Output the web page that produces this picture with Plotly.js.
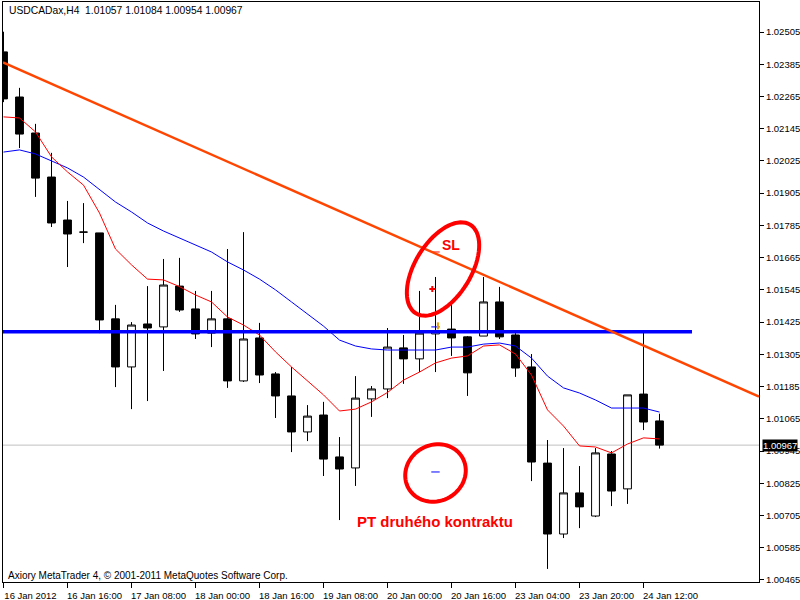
<!DOCTYPE html>
<html><head><meta charset="utf-8">
<script src="https://cdn.plot.ly/plotly-3.0.1.min.js"></script>
<style>html,body{margin:0;padding:0;background:#fff}#chart{width:800px;height:600px}</style>
</head><body><div id="chart"></div>
<script>
// ---- data (USDCADax, H4) ----
const opens  = [1.02431,1.02263,1.02129,1.01965,1.01805,1.01760,1.01757,1.01437,1.01258,1.01418,1.01407,1.01559,1.01474,1.01384,1.01437,1.01206,1.01366,1.01232,1.01150,1.01016,1.01079,1.00923,1.00882,1.01139,1.01176,1.01329,1.01288,1.01381,1.01399,1.01370,1.01373,1.01500,1.01377,1.01258,1.00900,1.00636,1.00789,1.00703,1.00934,1.00804,1.01157,1.01057];
const highs  = [1.02506,1.02297,1.02163,1.02055,1.01876,1.01868,1.01757,1.01489,1.01425,1.01559,1.01660,1.01664,1.01541,1.01541,1.01697,1.01760,1.01422,1.01239,1.01258,1.01116,1.01128,1.00997,1.01224,1.01187,1.01403,1.01377,1.01541,1.01593,1.01504,1.01373,1.01593,1.01556,1.01384,1.01306,1.00986,1.00956,1.00889,1.00956,1.00945,1.01154,1.01392,1.01084];
const lows   = [1.02244,1.02073,1.01891,1.01779,1.01630,1.01719,1.01384,1.01183,1.01101,1.01131,1.01243,1.01463,1.01362,1.01332,1.01180,1.01202,1.01198,1.01068,1.00941,1.00982,1.00852,1.00688,1.00815,1.01072,1.01142,1.01195,1.01239,1.01239,1.01299,1.01150,1.01373,1.01362,1.01221,1.00833,1.00506,1.00621,1.00658,1.00699,1.00740,1.00748,1.01023,1.00954];
const closes = [1.02256,1.02125,1.01961,1.01794,1.01753,1.01760,1.01433,1.01258,1.01414,1.01403,1.01563,1.01470,1.01381,1.01437,1.01206,1.01362,1.01228,1.01150,1.01016,1.01075,1.00915,1.00878,1.01142,1.01176,1.01332,1.01288,1.01384,1.01392,1.01366,1.01236,1.01500,1.01370,1.01254,1.00904,1.00636,1.00789,1.00737,1.00938,1.00796,1.01154,1.01053,1.00967];
const maFast = [1.02189,1.02185,1.02133,1.02040,1.01984,1.01935,1.01831,1.01697,1.01638,1.01585,1.01582,1.01557,1.01526,1.01500,1.01444,1.01414,1.01377,1.01314,1.01258,1.01206,1.01154,1.01094,1.01101,1.01128,1.01163,1.01209,1.01239,1.01273,1.01291,1.01299,1.01336,1.01340,1.01306,1.01228,1.01098,1.01038,1.00964,1.00960,1.00938,1.00971,1.00994,1.00990];
const maSlow = [1.02058,1.02066,1.02051,1.02025,1.01999,1.01965,1.01917,1.01872,1.01835,1.01794,1.01764,1.01738,1.01712,1.01686,1.01649,1.01619,1.01585,1.01545,1.01500,1.01455,1.01410,1.01358,1.01336,1.01325,1.01321,1.01321,1.01321,1.01321,1.01332,1.01332,1.01343,1.01347,1.01336,1.01291,1.01224,1.01180,1.01161,1.01135,1.01105,1.01105,1.01105,1.01090];
const timeTickIdx = [0,4,8,12,16,20,24,28,32,36,40];
const timeTickText = ["16 Jan 2012","16 Jan 16:00","17 Jan 08:00","18 Jan 00:00","18 Jan 16:00","19 Jan 08:00","20 Jan 00:00","20 Jan 16:00","23 Jan 04:00","23 Jan 20:00","24 Jan 12:00"];
const priceTicks = [1.02505,1.02385,1.02265,1.02145,1.02025,1.01905,1.01785,1.01665,1.01545,1.01425,1.01305,1.01185,1.01065,1.00945,1.00825,1.00705,1.00585,1.00465];
const lastPrice = 1.00967;
const supportLevel = 1.01389;   // horizontal blue line
const trendStart = 1.023918, trendEnd = 1.011476;  // orange trendline
const tradeEntry = 1.01407, tradeSL = 1.01686, tradeTP = 1.00867, tradeMark = 1.01548;
const tradeIdx = 27;

// ---- layout geometry ----
const W = 800, H = 600;
const M = {l:3, r:41, t:2, b:18};
const plotW = W - M.l - M.r, plotH = H - M.t - M.b;
const xRange = [-0.03125, -0.03125 + plotW/16];
const yRange = [1.0045735, 1.026167];
const xPerPx = (xRange[1]-xRange[0])/plotW;
const yPerPx = (yRange[1]-yRange[0])/plotH;

const idx = opens.map((_, i) => i);
const font = "Liberation Sans, Arial, sans-serif";

function ellipsePath(cx, cy, aPx, bPx, rotDeg) {
  const th = rotDeg*Math.PI/180, n = 72; let d = "";
  for (let j = 0; j <= n; j++) {
    const t = 2*Math.PI*j/n;
    const dx = aPx*Math.cos(th)*Math.cos(t) - bPx*Math.sin(th)*Math.sin(t);
    const dy = aPx*Math.sin(th)*Math.cos(t) + bPx*Math.cos(th)*Math.sin(t);
    const x = cx + dx*xPerPx, y = cy - dy*yPerPx;
    d += (j === 0 ? "M" : "L") + x.toFixed(4) + "," + y.toFixed(6);
  }
  return d + "Z";
}

const traces = [
  {type:'candlestick', x: idx, open: opens, high: highs, low: lows, close: closes,
   increasing:{line:{color:'#000', width:1}, fillcolor:'#fff'},
   decreasing:{line:{color:'#000', width:1}, fillcolor:'#000'},
   whiskerwidth:0, hoverinfo:'skip', showlegend:false},
  {type:'scatter', mode:'lines', x: idx, y: maSlow, line:{color:'#0000FF', width:1}, hoverinfo:'skip', showlegend:false},
  {type:'scatter', mode:'lines', x: idx, y: maFast, line:{color:'#FF0000', width:1}, hoverinfo:'skip', showlegend:false},
  {type:'scatter', mode:'markers', x:[tradeIdx, tradeIdx, tradeIdx], y:[tradeSL, tradeEntry, tradeTP],
   marker:{symbol:'line-ew', size:6, line:{width:1, color:['#FF0000','#0000FF','#0000FF']}}, hoverinfo:'skip', showlegend:false},
  {type:'scatter', mode:'markers', x:[tradeIdx-0.2], y:[tradeMark],
   marker:{symbol:'cross', size:5, color:'#FF0000'}, hoverinfo:'skip', showlegend:false},
  {type:'scatter', mode:'markers', x:[tradeIdx+0.15], y:[tradeEntry+0.00004],
   marker:{symbol:'line-ns', size:5, line:{width:2, color:'#E8A000'}}, hoverinfo:'skip', showlegend:false}
];

const layout = {
  width: W, height: H, margin: M,
  paper_bgcolor:'#fff', plot_bgcolor:'#fff', showlegend:false, dragmode:false,
  font:{family:font, size:9.5, color:'#000'},
  xaxis:{type:'linear', range:xRange, showgrid:false, zeroline:false,
    showline:true, mirror:true, linecolor:'#000', linewidth:1,
    tickmode:'array', tickvals:timeTickIdx, ticktext:timeTickText,
    ticks:'outside', ticklen:5, tickcolor:'#000', ticklabelshift:27,
    tickfont:{family:font, size:9.5, color:'#000'},
    rangeslider:{visible:false}, fixedrange:true},
  yaxis:{range:yRange, side:'right', showgrid:false, zeroline:false,
    showline:true, mirror:true, linecolor:'#000', linewidth:1,
    tickmode:'array', tickvals:priceTicks, ticktext:priceTicks.map(v=>v.toFixed(5)),
    ticks:'outside', ticklen:4, tickcolor:'#000',
    tickfont:{family:font, size:9.5, color:'#000'}, fixedrange:true},
  boxgap:0.3,
  shapes:[
    {type:'line', xref:'paper', x0:0, x1:1, yref:'y', y0:lastPrice, y1:lastPrice, line:{color:'#C0C0C0', width:1}, layer:'below'},
    {type:'line', xref:'x', x0:xRange[0], x1:43.03, yref:'y', y0:supportLevel, y1:supportLevel, line:{color:'#0000FF', width:3.5}, layer:'above'},
    {type:'line', xref:'x', x0:xRange[0], x1:xRange[1], yref:'y', y0:trendStart, y1:trendEnd, line:{color:'#FF4500', width:2.4}, layer:'above'},
    {type:'path', xref:'x', yref:'y', path: ellipsePath(27.47, 1.016226, 52, 28, -58.5), line:{color:'#FF0000', width:4}, layer:'above'},
    {type:'path', xref:'x', yref:'y', path: ellipsePath(27.0, 1.008632, 31, 28, -30), line:{color:'#FF0000', width:4}, layer:'above'}
  ],
  annotations:[
    {xref:'paper', yref:'paper', x:0, y:(plotH-9)/plotH, xshift:4, xanchor:'left', yanchor:'middle', showarrow:false,
     text:'USDCADax,H4  1.01057 1.01084 1.00954 1.00967', font:{family:font, size:10.3, color:'#000'}},
    {xref:'paper', yref:'paper', x:0, y:7/plotH, xshift:3, xanchor:'left', yanchor:'middle', showarrow:false,
     text:'Axiory MetaTrader 4, © 2001-2011 MetaQuotes Software Corp.', font:{family:font, size:10, color:'#000'}},
    {xref:'x', yref:'y', x:27.97, y:1.01712, showarrow:false, text:'<b>SL</b>', font:{family:font, size:14, color:'#FF0000'}},
    {xref:'x', yref:'y', x:26.94, y:1.00684, showarrow:false, text:'<b>PT druhého kontraktu</b>', font:{family:font, size:15, color:'#FF0000'}},
    {xref:'paper', yref:'y', x:1, y:lastPrice, xshift:3, xanchor:'left', yanchor:'middle', showarrow:false,
     text:lastPrice.toFixed(5), bgcolor:'#000', borderpad:0, font:{family:font, size:9.5, color:'#fff'}}
  ]
};

Plotly.newPlot('chart', traces, layout, {displayModeBar:false, staticPlot:true});
</script>
</body></html>
